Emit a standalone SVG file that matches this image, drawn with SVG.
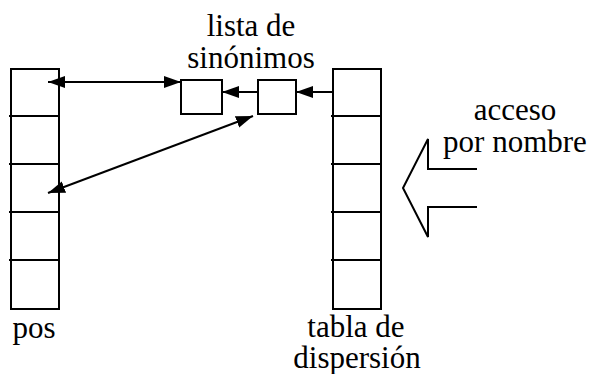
<svg xmlns="http://www.w3.org/2000/svg" width="591" height="374" viewBox="0 0 591 374">
<defs>
<style>
.box{fill:none;stroke:#000;stroke-width:2}
.ln{fill:none;stroke:#000;stroke-width:2}
.t{font-family:'Liberation Serif','Times New Roman',serif;font-size:31px;fill:#000;text-anchor:middle}
</style>
<marker id="ah" markerUnits="userSpaceOnUse" markerWidth="18" markerHeight="13" refX="17" refY="6" orient="auto-start-reverse">
<path d="M0,0 L17,6 L0,12 Z" fill="#000"/>
</marker>
</defs>
<rect width="591" height="374" fill="#fff"/>
<g id="pos">
<rect class="box" x="11" y="69" width="48" height="240"/>
<path class="ln" d="M9,116H59M9,164H59M9,212H59M9,260H59"/>
<text class="t" x="34" y="338">pos</text>
</g>
<g id="tabla">
<rect class="box" x="333" y="69" width="48" height="240"/>
<path class="ln" d="M331,116H381M331,164H381M331,212H381M331,260H381"/>
<text class="t" x="356" y="337">tabla de</text>
<text class="t" x="357" y="368">dispersión</text>
</g>
<g id="nodo1">
<rect class="box" x="181" y="80" width="41" height="34"/>
</g>
<g id="nodo2">
<rect class="box" x="258" y="80" width="38" height="34"/>
</g>
<g id="etiqueta-lista">
<text class="t" x="251" y="36">lista de</text>
<text class="t" x="251" y="68">sinónimos</text>
</g>
<g id="acceso">
<polyline class="ln" points="477,169 428,169 428,139 403,188 428,237 428,207 477,207"/>
<text class="t" x="515" y="120">acceso</text>
<text class="t" x="515" y="152">por nombre</text>
</g>
<g id="connectors">
<line class="ln" x1="48" y1="82" x2="181" y2="82" marker-start="url(#ah)" marker-end="url(#ah)"/>
<line class="ln" x1="48" y1="193" x2="253" y2="116" marker-start="url(#ah)" marker-end="url(#ah)"/>
<line class="ln" x1="258" y1="92" x2="222" y2="92" marker-end="url(#ah)"/>
<line class="ln" x1="333" y1="92" x2="296" y2="92" marker-end="url(#ah)"/>
</g>
</svg>
